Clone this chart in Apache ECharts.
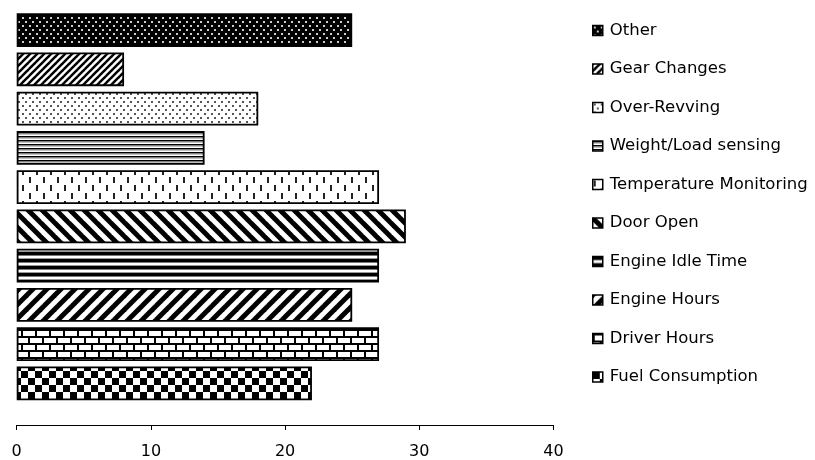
<!DOCTYPE html>
<html>
<head>
<meta charset="utf-8">
<script src="https://cdn.jsdelivr.net/npm/echarts@6/dist/echarts.min.js"></script>
<style>
  html, body { margin: 0; padding: 0; background: #fff; }
  #chart { width: 815px; height: 460px; }
</style>
</head>
<body>
<div id="chart"></div>
<script>
// Telematics feature usage, bottom-to-top order on the category axis
const categories = [
  'Fuel Consumption', 'Driver Hours', 'Engine Hours', 'Engine Idle Time', 'Door Open',
  'Temperature Monitoring', 'Weight/Load sensing', 'Over-Revving', 'Gear Changes', 'Other'
];
const values = [22, 27, 25, 27, 29, 27, 14, 18, 8, 25];
const axisMin = 0, axisMax = 40, axisStep = 10;

// ---- hatch/fill patterns drawn on small canvas tiles ----
function tile(w, h, bg, draw) {
  const c = document.createElement('canvas');
  c.width = w; c.height = h;
  const g = c.getContext('2d');
  g.fillStyle = bg; g.fillRect(0, 0, w, h);
  draw(g, w, h);
  return c;
}
function diag(p, up) {
  return tile(p, p, '#fff', (g) => {
    g.strokeStyle = '#000';
    g.lineWidth = p / (2 * Math.SQRT2);
    g.lineCap = 'square';
    for (let k = -1; k <= 1; k++) {
      g.beginPath();
      if (up) { g.moveTo(k * p, p); g.lineTo(k * p + p, 0); }
      else { g.moveTo(k * p, 0); g.lineTo(k * p + p, p); }
      g.stroke();
    }
  });
}
function rows(colors) {
  return tile(4, colors.length, '#fff', (g) => {
    colors.forEach((c, i) => { g.fillStyle = c; g.fillRect(0, i, 4, 1); });
  });
}
const patterns = [
  // checkerboard
  tile(14, 14, '#fff', (g) => { g.fillStyle = '#000'; g.fillRect(0, 0, 7, 7); g.fillRect(7, 7, 7, 7); }),
  // brick
  tile(14, 14, '#fff', (g) => {
    g.fillStyle = '#000';
    g.fillRect(0, 0, 14, 2); g.fillRect(0, 7, 14, 2);
    g.fillRect(0, 0, 2, 7); g.fillRect(7, 7, 2, 7);
  }),
  // wide upward diagonal
  diag(14, true),
  // wide horizontal
  rows(['#000', '#000', '#000', '#777', '#fff', '#fff', '#999']),
  // wide downward diagonal
  diag(14, false),
  // dashed vertical
  tile(14, 16, '#fff', (g) => { g.fillStyle = '#222'; g.fillRect(1, 1, 2, 6); g.fillRect(8, 9, 2, 6); }),
  // narrow horizontal
  rows(['#000', '#808080', '#c0c0c0', '#fff']),
  // sparse dots
  tile(7, 8, '#fff', (g) => { g.fillStyle = '#555'; g.fillRect(1, 1, 2, 2); g.fillRect(4, 5, 2, 2); }),
  // narrow upward diagonal
  diag(7, true),
  // dark with light dots
  tile(7, 8, '#000', (g) => { g.fillStyle = '#ccc'; g.fillRect(1, 1, 2, 2); g.fillRect(4, 5, 2, 2); })
];

const font = 'DejaVu Sans, Verdana, sans-serif';

const series = categories.map((name, i) => ({
  type: 'bar',
  name: name,
  stack: 'all',
  barWidth: '86%',
  data: categories.map((_, j) => (j === i ? values[i] : '-')),
  itemStyle: {
    color: { image: patterns[i], repeat: 'repeat' },
    borderColor: '#000',
    borderWidth: 1.8
  }
}));

const chart = echarts.init(document.getElementById('chart'), null, { renderer: 'canvas' });
chart.setOption({
  animation: false,
  backgroundColor: '#fff',
  grid: { left: 16.7, right: 261.5, top: 10.4, bottom: 57 },
  xAxis: {
    type: 'value',
    min: axisMin, max: axisMax, interval: axisStep,
    offset: 22,
    axisLine: { show: true, lineStyle: { color: '#000', width: 1 } },
    axisTick: { show: true, length: 5, lineStyle: { color: '#000' } },
    splitLine: { show: false },
    axisLabel: { color: '#000', fontSize: 16, fontFamily: font, margin: 19 }
  },
  yAxis: {
    type: 'category',
    data: categories,
    axisLine: { show: false },
    axisTick: { show: false },
    axisLabel: { show: false },
    splitLine: { show: false }
  },
  legend: {
    orient: 'vertical',
    left: 587,
    top: 17,
    padding: 5,
    itemWidth: 10,
    itemHeight: 10,
    itemGap: 21.5,
    icon: 'rect',
    data: categories.slice().reverse(),
    itemStyle: { borderColor: '#000', borderWidth: 1.5 },
    textStyle: { color: '#000', fontSize: 16.5, fontFamily: font, lineHeight: 17, padding: [0, 0, 0, 2] }
  },
  series: series
});
</script>
</body>
</html>
